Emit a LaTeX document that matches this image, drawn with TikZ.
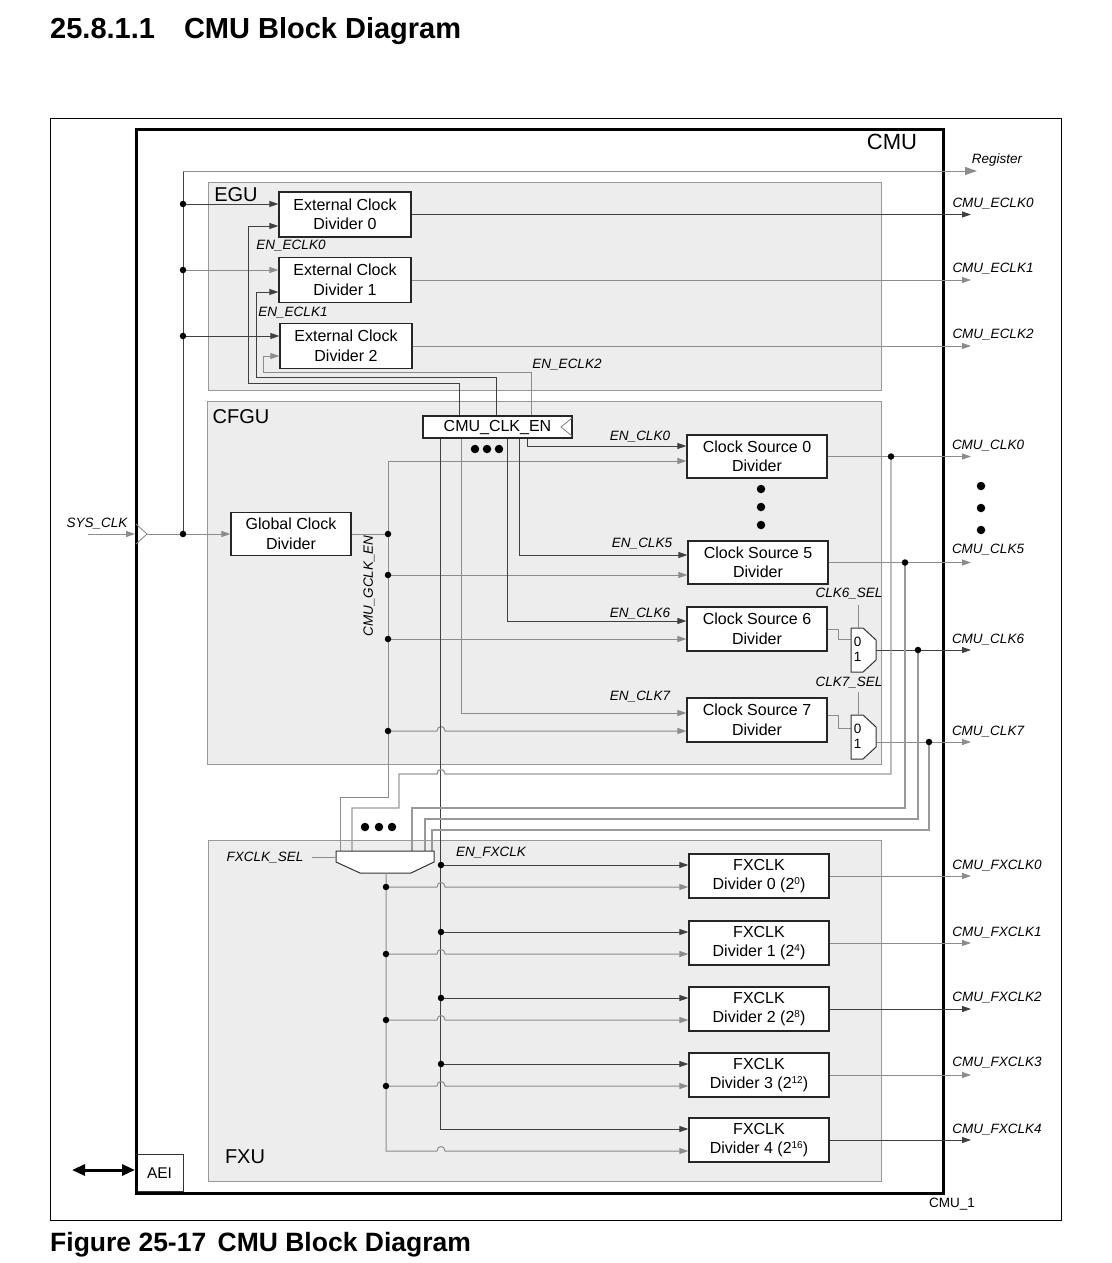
\documentclass[tikz,border=0pt]{standalone}
\usepackage{fontspec}
\setmainfont{Liberation Sans}
\usetikzlibrary{arrows.meta,calc}
\newcommand{\hopx}[1]{-- (437,#1) .. controls (437,#1-6) and (445,#1-6) .. (445,#1)}
\newcommand{\supx}[1]{\raisebox{5.5pt}{\fontsize{10}{10}\selectfont #1}}
\begin{document}
\begin{tikzpicture}[x=1pt,y=-1pt,
  blk/.style={draw=black!85, line width=1.2pt, fill=white, inner sep=0pt, align=center, font=\fontsize{16}{19.5}\selectfont},
  unit/.style={draw=black!40, line width=0.9pt, fill=black!7, inner sep=0pt},
  ulbl/.style={font=\fontsize{20}{22}\selectfont, inner sep=0pt},
  lbl/.style={font=\fontsize{13.5}{15}\selectfont\itshape, inner sep=0pt},
  nlbl/.style={font=\fontsize{13.5}{15}\selectfont, inner sep=0pt},
  wire/.style={draw=black!75, line width=0.9pt},
  wireg/.style={draw=black!45, line width=1pt},
  tapw/.style={draw=black!40, line width=1.3pt},
  arr/.style={-{Triangle[length=9pt,width=6pt]}},
  jdot/.style={circle, fill=black, inner sep=0pt, minimum size=6.5pt},
  bdot/.style={circle, fill=black, inner sep=0pt, minimum size=8.5pt},
  muxs/.style={draw=black!80, line width=1pt, fill=white},
]
\useasboundingbox (0,0) rectangle (1111,1263);

% title and caption
\node[anchor=west, inner sep=0pt, font=\bfseries\fontsize{29}{32}\selectfont] (title) at (50,31) {25.8.1.1\hspace{29pt}CMU Block Diagram};
\node[anchor=west, inner sep=0pt, font=\bfseries\fontsize{26.5}{30}\selectfont] (caption) at (50,1245) {Figure 25-17\hspace{4pt} CMU Block Diagram};

% frames
\node[draw=black, line width=1.2pt, minimum width=1011pt, minimum height=1102pt, anchor=north west, inner sep=0pt] (frame) at (50,118) {};
\node[draw=black!80, line width=1pt, fill=white, minimum width=48pt, minimum height=37pt, anchor=south west, inner sep=0pt, font=\fontsize{15.5}{17}\selectfont] (aei) at (135,1192) {AEI};
\node[draw=black, line width=3pt, minimum width=807pt, minimum height=1064pt, anchor=north west, inner sep=0pt] (cmu) at (135,128) {};
\node[font=\fontsize{22}{24}\selectfont, inner sep=0pt] (cmulbl) at (892,142) {CMU};
\node[nlbl] (cmu1) at (952,1204) {CMU\_1};

% units
\node[unit, minimum width=673pt, minimum height=208pt, anchor=north west] (egu) at (208,182) {};
\node[ulbl] (egul) at (236,195) {EGU};
\node[unit, minimum width=674pt, minimum height=363pt, anchor=north west] (cfgu) at (207,401) {};
\node[ulbl] (cfgul) at (241,417) {CFGU};
\node[unit, minimum width=673pt, minimum height=341pt, anchor=north west] (fxu) at (208,840) {};
\node[ulbl] (fxul) at (245,1157) {FXU};

% AEI arrow
\coordinate (aeiext) at (72,1170);
\coordinate (aeiin) at (135,1170);
\draw[line width=3pt, {Triangle[length=13pt,width=11pt]}-{Triangle[length=13pt,width=11pt]}] (aeiext) -- (aeiin);

% blocks
\node[blk, minimum width=132pt, minimum height=45pt] (ecd0) at (345,214.5) {External Clock\\Divider 0};
\node[blk, minimum width=132pt, minimum height=45pt] (ecd1) at (345,280) {External Clock\\Divider 1};
\node[blk, minimum width=132pt, minimum height=45pt] (ecd2) at (346,346) {External Clock\\Divider 2};
\node[blk, minimum width=120pt, minimum height=43pt] (gcd) at (291,534) {Global Clock\\Divider};
\node[blk, minimum width=149pt, minimum height=22pt] (clken) at (497.5,427) {CMU\_CLK\_EN};
\draw[draw=black!50, line width=0.8pt] (572,418) -- (561,427) -- (572,436);
\node[blk, minimum width=140pt, minimum height=43pt] (cs0) at (757,456.5) {Clock Source 0\\Divider};
\node[blk, minimum width=140pt, minimum height=43pt] (cs5) at (758,562.5) {Clock Source 5\\Divider};
\node[blk, minimum width=140pt, minimum height=44pt] (cs6) at (757,629) {Clock Source 6\\Divider};
\node[blk, minimum width=140pt, minimum height=44pt] (cs7) at (757,720) {Clock Source 7\\Divider};
\node[blk, minimum width=140pt, minimum height=44pt] (fx0) at (759,876) {FXCLK\\Divider 0 (2\supx{0})};
\node[blk, minimum width=140pt, minimum height=44pt] (fx1) at (759,943) {FXCLK\\Divider 1 (2\supx{4})};
\node[blk, minimum width=140pt, minimum height=44pt] (fx2) at (759,1009) {FXCLK\\Divider 2 (2\supx{8})};
\node[blk, minimum width=140pt, minimum height=44pt] (fx3) at (759,1075) {FXCLK\\Divider 3 (2\supx{12})};
\node[blk, minimum width=140pt, minimum height=44pt] (fx4) at (759,1140) {FXCLK\\Divider 4 (2\supx{16})};

\coordinate (outx) at (971,0);
\coordinate (regtip) at (977,171);
\coordinate (sysin) at (88,534);
\coordinate (sysb) at (135,534);
\coordinate (m6out) at (876,650);
\coordinate (m7out) at (876,742);

% EGU wiring
\draw[wire] (183,171) -- (183,534);
\draw[wireg, -{Triangle[length=12pt,width=8pt]}] (183,171) -- (regtip);
\draw[wire,arr] (183,204) -- ($(ecd0.west)+(0,-10.5)$);
\draw[wireg,arr] (183,270) -- ($(ecd1.west)+(0,-10)$);
\draw[wire,arr] (183,336) -- ($(ecd2.west)+(0,-10)$);
\draw[wire,arr] ([xshift=37.5pt]clken.north west) |- (248,383) |- ($(ecd0.west)+(0,11.5)$);
\draw[wire,arr] ([xshift=74.5pt]clken.north west) |- (256,377) |- ($(ecd1.west)+(0,12)$);
\draw[wireg,arr] ([xshift=109.5pt]clken.north west) |- (263,372) |- ($(ecd2.west)+(0,10)$);
\draw[wire,arr] (ecd0.east) -- (ecd0.east -| outx);
\draw[wireg,arr] (ecd1.east) -- (ecd1.east -| outx);
\draw[wireg,arr] (ecd2.east) -- (ecd2.east -| outx);

% SYS_CLK
\draw[wireg,arr] (sysin) -- (sysb);
\draw[draw=black!50, line width=0.8pt] (136,524) -- (147,534) -- (136,544);
\draw[wireg] (147,534) -- (183,534);
\draw[wireg,arr] (183,534) -- (gcd.west);
\draw[wireg] (gcd.east) -- (388,534);

% global clock bus
\draw[wireg,arr] (340,851) |- (388,797) -- (388,461) -- ($(cs0.west)+(0,4.5)$);
\draw[wireg,arr] (388,575) -- ($(cs5.west)+(0,12.5)$);
\draw[wireg,arr] (388,639) -- ($(cs6.west)+(0,10)$);
\draw[wireg,arr] (388,731) \hopx{731} -- ($(cs7.west)+(0,11)$);

% enables
\draw[wire,arr] ([xshift=105.5pt]clken.south west) |- ($(cs0.west)+(0,-10.5)$);
\draw[wire,arr] ([xshift=97.5pt]clken.south west) |- ($(cs5.west)+(0,-7.5)$);
\draw[wire,arr] ([xshift=85.5pt]clken.south west) |- ($(cs6.west)+(0,-8)$);
\draw[wireg,arr] ([xshift=39.5pt]clken.south west) |- ($(cs7.west)+(0,-7)$);
\draw[wire,arr] ([xshift=18.5pt]clken.south west) |- ($(fx4.west)+(0,-11)$);

% clock source outputs
\draw[wireg,arr] (cs0.east) -- (cs0.east -| outx);
\draw[wireg,arr] (cs5.east) -- (cs5.east -| outx);
\draw[wireg] (cs6.east) -- (838,629) -- (838,639) -- (851,639);
\draw[wireg] ($(cs7.east)+(0,-5)$) -- (838,715) -- (838,728) -- (851,728);
\draw[wire,arr] (m6out) -- (m6out -| outx);
\draw[wireg,arr] (m7out) -- (m7out -| outx);

% taps to FXCLK mux
\draw[tapw] (891,456.5) -- (891,774) -- (445,774) .. controls (445,768) and (437,768) .. (437,774) -- (399,774) -- (399,808) -- (352,808) -- (352,851);
\draw[tapw] (905,562.5) |- (412,808) -- (412,851);
\draw[tapw] (918,650) |- (425,819) -- (425,851);
\draw[tapw] (929,742) |- (432,830) -- (432,851);

% muxes
\draw[muxs] (851,628) -- (863,628) -- (876,640) -- (876,660) -- (863,672) -- (851,672) -- cycle;
\draw[muxs] (851,715) -- (863,715) -- (876,727) -- (876,747) -- (863,759) -- (851,759) -- cycle;
\draw[muxs] (336,851) -- (434,851) -- (434,862) -- (411,873) -- (360,873) -- (336,862) -- cycle;
\node[nlbl] (m6a) at (857.5,642) {0};
\node[nlbl] (m6b) at (857.5,657) {1};
\node[nlbl] (m7a) at (857.5,729) {0};
\node[nlbl] (m7b) at (857.5,744) {1};
\draw[wireg] (858,605) -- (858,628);
\draw[wireg] (858,692) -- (858,715);
\draw[wireg] (312,857) -- (336,857);

% FXU wiring
\draw[wireg,arr] (386,873) -- (386,1151) \hopx{1151} -- ($(fx4.west)+(0,11)$);
\draw[wireg,arr] (386,887) \hopx{887} -- ($(fx0.west)+(0,11)$);
\draw[wireg,arr] (386,954) \hopx{954} -- ($(fx1.west)+(0,11)$);
\draw[wireg,arr] (386,1020) \hopx{1020} -- ($(fx2.west)+(0,11)$);
\draw[wireg,arr] (386,1086) \hopx{1086} -- ($(fx3.west)+(0,11)$);
\draw[wire,arr] (441,865) -- ($(fx0.west)+(0,-11)$);
\draw[wire,arr] (441,932) -- ($(fx1.west)+(0,-11)$);
\draw[wire,arr] (441,998) -- ($(fx2.west)+(0,-11)$);
\draw[wire,arr] (441,1064) -- ($(fx3.west)+(0,-11)$);
\draw[wireg,arr] (fx0.east) -- (fx0.east -| outx);
\draw[wireg,arr] (fx1.east) -- (fx1.east -| outx);
\draw[wire,arr] (fx2.east) -- (fx2.east -| outx);
\draw[wireg,arr] (fx3.east) -- (fx3.east -| outx);
\draw[wire,arr] (fx4.east) -- (fx4.east -| outx);

% junction dots
\foreach \p [count=\k] in {(183,204),(183,270),(183,336),(183,534),(388,534),(388,575),(388,639),(388,731),(891,456.5),(905,562.5),(918,650),(929,742),(441,865),(441,932),(441,998),(441,1064),(386,887),(386,954),(386,1020),(386,1086)}
  \node[jdot] (jd\k) at \p {};
\foreach \p [count=\k] in {(475,449),(487,449),(499,449),(761,489),(761,507),(761,525),(981,486),(981,508),(981,530),(365,827),(379,827),(392,827)}
  \node[bdot] (bd\k) at \p {};

% labels
\node[lbl] (lsys) at (97,524) {SYS\_CLK};
\node[lbl] (lreg) at (997,160) {Register};
\node[lbl] (le0) at (993,204) {CMU\_ECLK0};
\node[lbl] (le1) at (993,269) {CMU\_ECLK1};
\node[lbl] (le2) at (993,335) {CMU\_ECLK2};
\node[lbl] (len0) at (291,246) {EN\_ECLK0};
\node[lbl] (len1) at (293,313) {EN\_ECLK1};
\node[lbl] (len2) at (567,365) {EN\_ECLK2};
\node[lbl] (lc0) at (640,437) {EN\_CLK0};
\node[lbl] (lc5) at (642,544) {EN\_CLK5};
\node[lbl] (lc6) at (640,614) {EN\_CLK6};
\node[lbl] (lc7) at (640,697) {EN\_CLK7};
\node[lbl] (ls6) at (849,594) {CLK6\_SEL};
\node[lbl] (ls7) at (849,683) {CLK7\_SEL};
\node[lbl, rotate=90] (lg) at (369,586) {CMU\_GCLK\_EN};
\node[lbl] (lfs) at (265,858) {FXCLK\_SEL};
\node[lbl] (lenfx) at (491,853) {EN\_FXCLK};
\node[lbl] (lo0) at (988,446) {CMU\_CLK0};
\node[lbl] (lo5) at (988,550) {CMU\_CLK5};
\node[lbl] (lo6) at (988,640) {CMU\_CLK6};
\node[lbl] (lo7) at (988,732) {CMU\_CLK7};
\node[lbl] (lf0) at (997,866) {CMU\_FXCLK0};
\node[lbl] (lf1) at (997,933) {CMU\_FXCLK1};
\node[lbl] (lf2) at (997,998) {CMU\_FXCLK2};
\node[lbl] (lf3) at (997,1063) {CMU\_FXCLK3};
\node[lbl] (lf4) at (997,1130) {CMU\_FXCLK4};
\end{tikzpicture}
\end{document}
